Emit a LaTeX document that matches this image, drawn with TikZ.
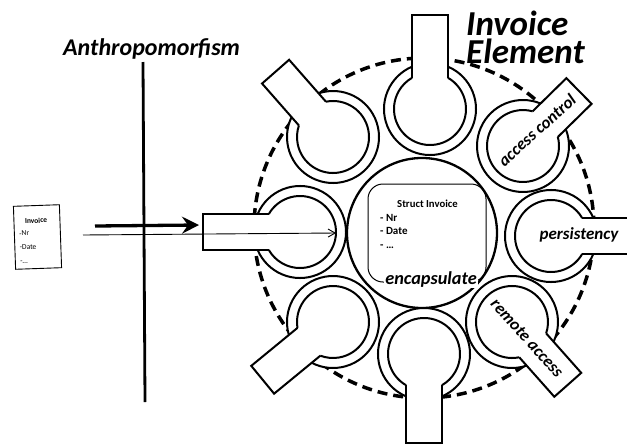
\documentclass[tikz,border=0pt]{standalone}
\usepackage{fontspec}
\setmainfont{Carlito}
\usetikzlibrary{arrows.meta}

\tikzset{
  ring/.style={line width=2pt},
  guard/.style={line width=3.5pt, dash pattern=on 10pt off 6pt},
  lbl/.style={font=\fontsize{17}{20}\selectfont\bfseries\itshape, inner sep=0pt},
  % hollow ring with a radial handle pointing at angle #1, handle length #2
  pics/keyhole/.style 2 args={code={
    \begin{scope}[rotate=#1]
      \fill[white] (0,0) circle[radius=46];
      \fill[white] (0,-18) rectangle (#2,18);
      \draw[ring] (23.03:46) arc[start angle=23.03, end angle=336.97, radius=46];
      \draw[ring] (30:36) arc[start angle=30, end angle=330, radius=36];
      \draw[ring] (31.18,18) -- (#2,18) -- (#2,-18) -- (31.18,-18);
    \end{scope}
  }}
}

\begin{document}
\begin{tikzpicture}[x=1pt,y=-1pt]
  \fill[white] (0,0) rectangle (627,445);
  \useasboundingbox (0,0) rectangle (627,445);

  % dashed boundary of the element
  \coordinate (hub) at (424,228);
  \draw[guard] (hub) circle[radius=170];

  % central core
  \node[circle, draw, line width=2.3pt, fill=white, minimum size=150pt, inner sep=0pt] (core) at (422,233) {};

  % surrounding aspect rings
  \pic (kN)  at (430,109) {keyhole={90}{94}};
  \pic (kNW) at (333,137) {keyhole={131.3}{87}};
  \pic (kW)  at (300,232) {keyhole={180}{97}};
  \pic (kSW) at (333,322) {keyhole={219.4}{91}};
  \pic (kS)  at (424,354) {keyhole={270}{89}};
  \pic (kSE) at (512,322) {keyhole={-48.4}{84}};
  \pic (kE)  at (551,236) {keyhole={0}{80}};
  \pic (kNE) at (523,146) {keyhole={44.5}{78.5}};

  % aspect labels
  \node[lbl, rotate=42]  (acLbl)   at (537,130) {access control};
  \node[lbl]             (persLbl) at (579,235) {persistency};
  \node[lbl, rotate=-48] (raLbl)   at (527,338) {remote access};

  % struct inside the core
  \node[draw, line width=1pt, rounded corners=15pt, minimum width=118pt, minimum height=98pt, inner sep=0pt] (struct) at (427,233) {};
  \node[anchor=base, inner sep=0pt, font=\fontsize{10.7}{12}\selectfont\bfseries] (structTitle) at (427.5,207) {Struct Invoice};
  \node[anchor=north west, align=left, inner sep=0pt, font=\fontsize{11}{13.5}\selectfont\bfseries] (structBody) at (380,214) {- Nr\\- Date\\- …};
  \node[anchor=base, fill=white, inner sep=1.5pt, font=\fontsize{18.3}{20}\selectfont\bfseries\itshape] (encLbl) at (431,284) {encapsulate};

  % titles
  \node[anchor=base west, inner sep=0pt, font=\fontsize{24}{28}\selectfont\bfseries\itshape] (anthro) at (63,55) {Anthropomorfism};
  \node[anchor=north west, align=left, inner sep=0pt, font=\fontsize{35}{28}\selectfont\bfseries\itshape] (elemTitle) at (466,11) {Invoice\\Element};

  % separating axis
  \coordinate (axisTop) at (143,62);
  \coordinate (axisBot) at (145,402);
  \draw[line width=2.8pt] (axisTop) -- (axisBot);

  % invoice card
  \node[draw, line width=0.9pt, rotate=2, minimum width=46pt, minimum height=63pt, inner sep=0pt] (card) at (37.5,237) {};
  \node[rotate=2, inner sep=0pt, font=\fontsize{7.5}{8}\selectfont\bfseries] (cardTitle) at (36,220.5) {Invoice};
  \node[rotate=2, anchor=north west, align=left, inner sep=0pt, font=\fontsize{7.5}{14}\selectfont] (cardBody) at (19,231) {-Nr\\-Date\\-…};

  % arrows
  \coordinate (thickStart) at (95,226);
  \coordinate (thickEnd) at (199,225);
  \draw[line width=3.3pt, -{Stealth[length=17pt,width=17pt,inset=6pt]}] (thickStart) -- (thickEnd);
  \coordinate (thinStart) at (83,235);
  \coordinate (thinEnd) at (336,233);
  \draw[line width=0.9pt, -{Straight Barb[length=7pt,width=8pt]}] (thinStart) -- (thinEnd);
\end{tikzpicture}
\end{document}
